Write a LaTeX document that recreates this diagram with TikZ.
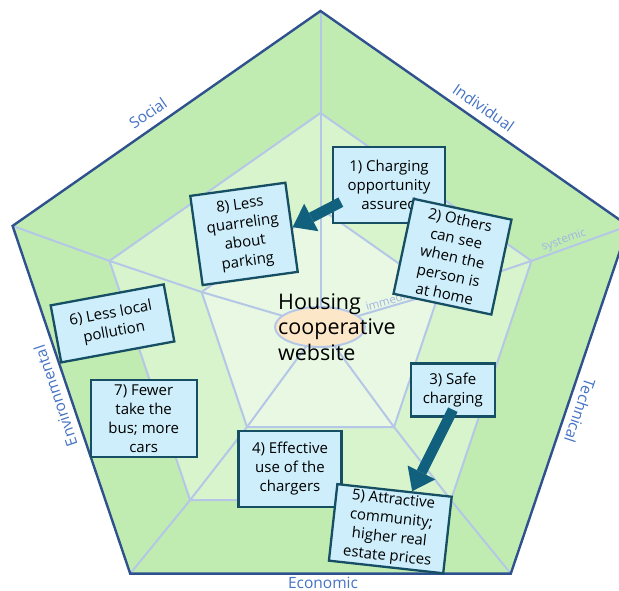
\documentclass[tikz,border=0pt]{standalone}
\usepackage{fontspec}
\setmainfont{Open Sans}
\usetikzlibrary{arrows.meta,calc}

\definecolor{ringouter}{RGB}{193,236,177}
\definecolor{ringmid}{RGB}{216,244,205}
\definecolor{ringinner}{RGB}{233,248,227}
\definecolor{rimblue}{RGB}{47,82,143}
\definecolor{gridline}{RGB}{180,199,231}
\definecolor{dimblue}{RGB}{68,114,196}
\definecolor{ringblue}{RGB}{160,180,228}
\definecolor{hubfill}{RGB}{252,232,200}
\definecolor{boxfill}{RGB}{205,238,250}
\definecolor{boxline}{RGB}{22,78,99}
\definecolor{arrowteal}{RGB}{16,96,126}

\tikzset{
  ibox/.style={draw=boxline, line width=2.3pt, fill=boxfill, align=center,
    inner sep=2pt, font=\fontsize{15}{19}\selectfont},
  gridpath/.style={draw=gridline, line width=2pt, line join=round},
  dimlabel/.style={text=dimblue, font=\fontsize{15.5}{18}\selectfont, inner sep=0pt},
  ringlabel/.style={text=ringblue, font=\fontsize{11.5}{14}\selectfont, inner sep=0pt},
  blockarrow/.style={draw=arrowteal, line width=10.5pt,
    -{Triangle[width=31pt,length=21pt,line width=0pt]}},
}

\begin{document}
\begin{tikzpicture}[x=1pt,y=-1pt]
\useasboundingbox (0,0) rectangle (619,591);
\begin{scope}
\clip (0,0) rectangle (619,591);

% centre and pentagon vertices (outer, middle, inner rings)
\coordinate (c)  at (320.5,327);
\coordinate (o1) at (320.5,11);
\coordinate (o2) at (12.6,225.9);
\coordinate (o3) at (130.2,573.6);
\coordinate (o4) at (510.8,573.6);
\coordinate (o5) at (628.4,225.9);
\coordinate (m1) at (320.5,113);
\coordinate (m2) at (109.5,260.9);
\coordinate (m3) at (190.1,500.1);
\coordinate (m4) at (450.9,500.1);
\coordinate (m5) at (531.5,260.9);
\coordinate (i1) at (320.5,208.5);
\coordinate (i2) at (201.6,292);
\coordinate (i3) at (247,427);
\coordinate (i4) at (394,427);
\coordinate (i5) at (439.4,292);

% ring fills
\fill[ringouter] (o1) -- (o2) -- (o3) -- (o4) -- (o5) -- cycle;
\fill[ringmid]   (m1) -- (m2) -- (m3) -- (m4) -- (m5) -- cycle;
\fill[ringinner] (i1) -- (i2) -- (i3) -- (i4) -- (i5) -- cycle;

% ring outlines and spokes
\draw[gridpath] (m1) -- (m2) -- (m3) -- (m4) -- (m5) -- cycle;
\draw[gridpath] (i1) -- (i2) -- (i3) -- (i4) -- (i5) -- cycle;
\foreach \k in {1,...,5}
  \draw[gridpath] (c) -- (i\k) -- (m\k) -- (o\k);

% outer rim
\draw[rimblue, line width=2.4pt, line join=miter]
  (o1) -- (o2) -- (o3) -- (o4) -- (o5) -- cycle;

% dimension labels
\node[dimlabel, rotate=34.9]   (lsoc) at (148,113)   {Social};
\node[dimlabel, rotate=-34.9]  (lind) at (483.6,107.5) {Individual};
\node[dimlabel, rotate=-108.6] (ltec) at (580,411)   {Technical};
\node[dimlabel, rotate=108.6]  (lenv) at (55.5,396)  {Environmental};
\node[dimlabel, anchor=base]   (leco) at (323,588)   {Economic};

% ring labels along the spokes
\node[ringlabel, anchor=base west, rotate=19.9] (lsys) at (543,251) {systemic};
\node[ringlabel, anchor=base west, rotate=16.4] (limm) at (367,311) {immediate};

% hub
\draw[gridline, line width=2pt, fill=hubfill] (320,327) ellipse [x radius=45, y radius=20];
\node[anchor=west, inner sep=0pt, align=left, font=\fontsize{21.5}{25.5}\selectfont]
  (hub) at (278,327) {Housing\\cooperative\\website};

% effect boxes
\node[ibox, rotate=7.9, minimum width=96, minimum height=90]
  (b8) at (244,233.9) {8) Less\\quarreling\\about\\parking};
\node[ibox, minimum width=112, minimum height=76]
  (b1) at (389,185) {1) Charging\\opportunity\\assured};
\node[ibox, rotate=-12, minimum width=100, minimum height=97]
  (b2) at (452.5,256.7) {2) Others\\can see\\when the\\person is\\at home};
\node[ibox, minimum width=84, minimum height=53]
  (b3) at (452.8,390) {3) Safe\\charging};
\node[ibox, minimum width=103, minimum height=76]
  (b4) at (290,468.7) {4) Effective\\use of the\\chargers};
\node[ibox, rotate=-6.3, minimum width=115, minimum height=77]
  (b5) at (390.3,528.7) {5) Attractive\\community;\\higher real\\estate prices};
\node[ibox, rotate=10.5, minimum width=115, minimum height=58]
  (b6) at (112.5,323.4) {6) Less local\\pollution};
\node[ibox, minimum width=106, minimum height=77]
  (b7) at (143.7,418.3) {7) Fewer\\take the\\bus; more\\cars};

% causal arrows
\draw[blockarrow] ($(b1.south west)+(9,-22)$) -- (b8.east);
\draw[blockarrow] ($(b3.south)+(0,-8)$) -- ($(b5.north)!0.3!(b5.north east)$);
\end{scope}
\end{tikzpicture}
\end{document}
